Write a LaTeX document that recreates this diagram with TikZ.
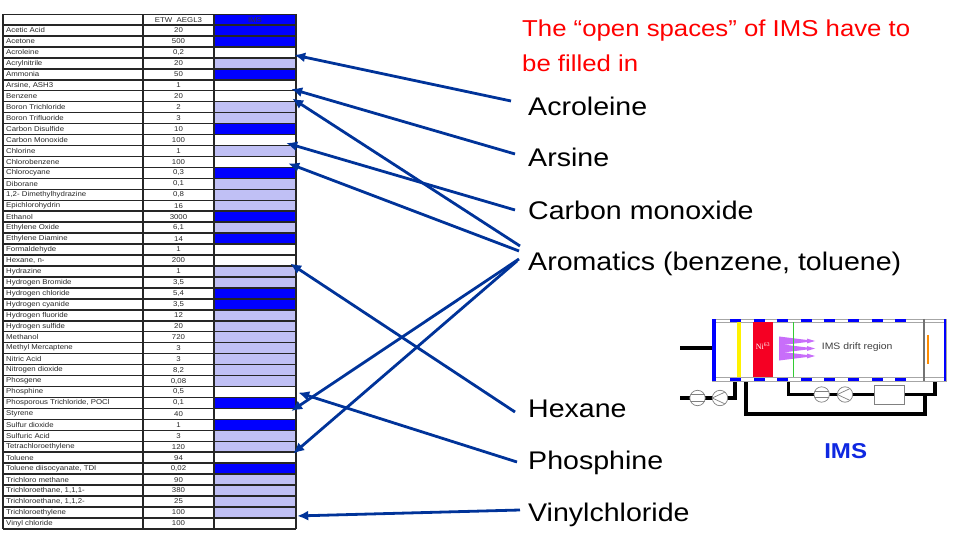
\documentclass[tikz,border=0pt]{standalone}
\usepackage{fontspec}
\setmainfont{Liberation Sans}[FakeStretch=1.12]
\newfontfamily\nifont{Liberation Serif}
\usetikzlibrary{arrows.meta}

\definecolor{bl}{RGB}{0,0,255}
\definecolor{ht}{RGB}{192,192,245}
\definecolor{wh}{RGB}{255,255,255}
\definecolor{ptrblue}{RGB}{0,51,153}
\definecolor{tred}{RGB}{255,0,0}
\definecolor{nired}{RGB}{245,0,35}
\definecolor{fanviolet}{RGB}{200,110,250}
\definecolor{imsbold}{RGB}{15,40,225}

\tikzset{
  tabline/.style={black!85, line width=1.5bp},
  imscell/.style={minimum width=82bp, minimum height=10.955bp, inner sep=0pt, draw=none},
  namecell/.style={anchor=west, inner sep=0pt, text=black!85, font=\fontsize{7bp}{8bp}\selectfont},
  valcell/.style={inner sep=0pt, text=black!85, font=\fontsize{7bp}{8bp}\selectfont},
  lbl/.style={anchor=base west, inner sep=0pt, font=\fontsize{25.5bp}{30bp}\selectfont},
  titletxt/.style={anchor=base west, inner sep=0pt, text=tred, font=\fontsize{23bp}{28bp}\selectfont},
  ptr/.style={draw=ptrblue, line width=2.8bp, -{Latex[length=11bp,width=10bp]}},
  wall/.style={draw=black!35, line width=0.8bp},
  pipe/.style={draw=black, line width=3.6bp},
  pump/.style={draw=black!50, fill=white, line width=0.7bp},
}

\begin{document}
\begin{tikzpicture}[x=1bp, y=-1bp]
\useasboundingbox (0,0) rectangle (957,534);

% table
\node[imscell, fill=bl, minimum height=10.5bp, text=black!80, font=\fontsize{7bp}{8bp}\selectfont] (imshead) at (255,19.75) {IMS};
\node[valcell] (aeglhead) at (178.5,19.75) {ETW\ \ AEGL3};
\foreach \nm/\val/\kd [count=\i] in {
  {Acetic Acid}/20/bl, {Acetone}/500/bl, {Acroleine}/{0,2}/wh, {Acrylnitrile}/20/ht,
  {Ammonia}/50/bl, {Arsine, ASH3}/1/wh, {Benzene}/20/wh, {Boron Trichloride}/2/ht,
  {Boron Trifluoride}/3/ht, {Carbon Disulfide}/10/bl, {Carbon Monoxide}/100/wh,
  {Chlorine}/1/ht, {Chlorobenzene}/100/wh, {Chlorocyane}/{0,3}/bl, {Diborane}/{0,1}/ht,
  {1,2- Dimethylhydrazine}/{0,8}/ht, {Epichlorohydrin}/16/ht, {Ethanol}/3000/bl,
  {Ethylene Oxide}/{6,1}/ht, {Ethylene Diamine}/14/bl, {Formaldehyde}/1/wh,
  {Hexane, n-}/200/wh, {Hydrazine}/1/ht, {Hydrogen Bromide}/{3,5}/ht,
  {Hydrogen chloride}/{5,4}/bl, {Hydrogen cyanide}/{3,5}/bl, {Hydrogen fluoride}/12/ht,
  {Hydrogen sulfide}/20/ht, {Methanol}/720/ht, {Methyl Mercaptene}/3/ht,
  {Nitric Acid}/3/ht, {Nitrogen dioxide}/{8,2}/ht, {Phosgene}/{0,08}/ht,
  {Phosphine}/{0,5}/wh, {Phosporous Trichloride, POCl}/{0,1}/bl, {Styrene}/40/wh,
  {Sulfur dioxide}/1/bl, {Sulfuric Acid}/3/ht, {Tetrachloroethylene}/120/ht,
  {Toluene}/94/wh, {Toluene diisocyanate, TDI}/{0,02}/bl, {Trichloro methane}/90/ht,
  {Trichloroethane, 1,1,1-}/380/ht, {Trichloroethane, 1,1,2-}/25/ht,
  {Trichloroethylene}/100/ht, {Vinyl chloride}/100/wh} {
  \node[imscell, fill=\kd] (ims\i) at (255,{25+(\i-0.5)*10.955}) {};
  \node[namecell] (nm\i) at (6,{25+(\i-0.5)*10.955}) {\nm};
  \node[valcell] (val\i) at (178.5,{25+(\i-0.5)*10.955}) {\val};
}
\draw[tabline] (3,14.5) -- (296,14.5);
\foreach \i in {0,...,46}
  \draw[tabline] (3,{25+\i*10.955}) -- (296,{25+\i*10.955});
\foreach \xx in {3,143,214,296}
  \draw[tabline] (\xx,14.5) -- (\xx,528.9);

% remarks and labels
\node[titletxt] (title1) at (522,36.7) {The “open spaces” of IMS have to};
\node[titletxt] (title2) at (522,71.7) {be filled in};
\node[lbl] (acro) at (528,115.2) {Acroleine};
\node[lbl] (arsine) at (528,166.2) {Arsine};
\node[lbl] (cmono) at (528,219.2) {Carbon monoxide};
\node[lbl] (arom) at (528,270.2) {Aromatics (benzene, toluene)};
\node[lbl] (hexane) at (528,417.2) {Hexane};
\node[lbl] (phos) at (528,469.2) {Phosphine};
\node[lbl] (vinyl) at (528,521.2) {Vinylchloride};

% arrows to the open cells
\draw[ptr] ([shift={(-17bp,14.2bp)}]acro.base west) -- ([shift={(-2bp,-2.6bp)}]ims3.east);
\draw[ptr] ([shift={(-13bp,12.2bp)}]arsine.base west) -- ([shift={(-5bp,-3.7bp)}]ims6.east);
\draw[ptr] ([shift={(-13bp,9.2bp)}]cmono.base west) -- ([shift={(-10bp,-3bp)}]ims11.east);
\draw[ptr] ([shift={(-8bp,24.2bp)}]arom.base west) -- ([shift={(-4bp,-2.3bp)}]ims7.east);
\draw[ptr] ([shift={(-9bp,19.2bp)}]arom.base west) -- ([shift={(-8bp,-1.4bp)}]ims13.east);
\draw[ptr] ([shift={(-9bp,11.2bp)}]arom.base west) -- ([shift={(-5bp,2.8bp)}]ims36.east);
\draw[ptr] ([shift={(-11bp,9.2bp)}]arom.base west) -- ([shift={(-3bp,4.1bp)}]ims40.east);
\draw[ptr] ([shift={(-13bp,5.2bp)}]hexane.base west) -- ([shift={(-6bp,-3bp)}]ims22.east);
\draw[ptr] ([shift={(-11bp,7.2bp)}]phos.base west) -- ([shift={(2bp,-0.6bp)}]ims34.east);
\draw[ptr] ([shift={(-8bp,11.2bp)}]vinyl.base west) -- ([shift={(1bp,7.5bp)}]ims46.east);

% IMS cell
\draw[pipe] (680,348) -- (712,348);
\draw[pipe] (680,398) -- (735,398) -- (735,381);
\draw[pipe] (746,381) -- (746,414) -- (925,414) -- (925,394.5);
\draw[pipe] (788.3,381) -- (788.3,394.5) -- (874,394.5);
\draw[pipe] (904,394.5) -- (935,394.5) -- (935,381);
\fill[white] (712,319) rectangle (946,381);
\draw[wall] (712,319) rectangle (946,381);
\draw[wall] (716,322.5) -- (944,322.5);
\draw[wall] (716,377.3) -- (944,377.3);
\foreach \k in {0,...,7} {
  \fill[bl] ({730+23.6*\k},319.3) rectangle ++(11,3.2);
  \fill[bl] ({730+23.6*\k},377.5) rectangle ++(11,3.2);
}
\fill[bl] (712,319) rectangle (716,381);
\fill[bl] (944,319) rectangle (946,381);
\fill[yellow] (737,322.5) rectangle (741,377.3);
\fill[nired] (753,322.5) rectangle (773,377.3);
\node[text=white, inner sep=0pt, font=\nifont\fontsize{8bp}{9bp}\selectfont] (ni) at (763,346) {Ni\textsuperscript{63}};
\foreach \yc in {341,348.5,356}
  \fill[fanviolet] (779,{\yc-4.5}) -- (807,{\yc-1}) -- (807,{\yc-2.4}) -- (815,\yc)
    -- (807,{\yc+2.4}) -- (807,{\yc+1}) -- (779,{\yc+4.5}) -- cycle;
\draw[green!75!black!80, line width=0.8bp] (793.3,322.5) -- (793.3,377.3);
\draw[black!55, line width=1.5bp] (924,319) -- (924,381);
\draw[orange!90!yellow, line width=1.5bp] (928,335) -- (928,364);
\node[anchor=west, inner sep=0pt, text=black!75, font=\fontsize{9.3bp}{10bp}\selectfont] (drift) at (821.7,347) {IMS drift region};

% pumps and filter
\foreach \px/\py in {697.5/398, 821.7/394.5} {
  \draw[pump] (\px,\py) circle (7.7);
  \draw[pump] ({\px-7},{\py-3.2}) -- ({\px+7},{\py-3.2});
  \draw[pump] ({\px-7},{\py+3.2}) -- ({\px+7},{\py+3.2});
}
\foreach \px/\py in {720/398, 845/394.5} {
  \draw[pump] (\px,\py) circle (7.7);
  \draw[pump] ({\px+7.7*cos(50)},{\py-7.7*sin(50)}) -- ({\px-7.7},\py) -- ({\px+7.7*cos(50)},{\py+7.7*sin(50)});
}
\draw[pump] (874,385) rectangle (904,404.3);

\node[text=imsbold, font=\bfseries\fontsize{21.5bp}{24bp}\selectfont] (imslbl) at (845.7,451) {IMS};
\end{tikzpicture}
\end{document}
